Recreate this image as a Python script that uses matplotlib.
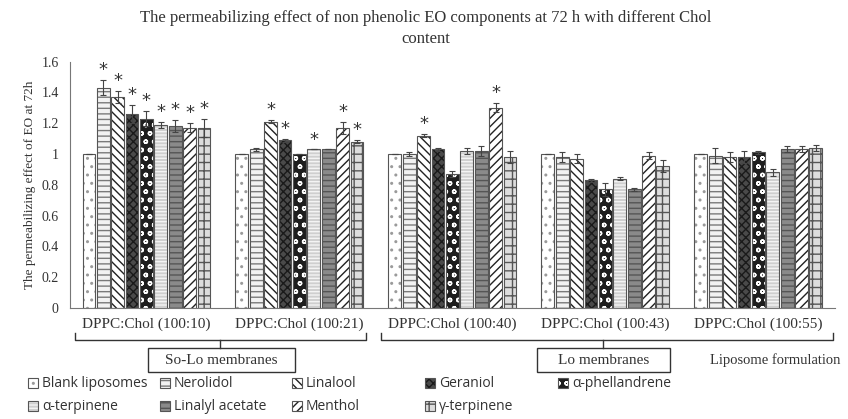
import numpy as np
import matplotlib
matplotlib.use("Agg")
from matplotlib import pyplot as plt
from matplotlib.patches import Rectangle
from matplotlib.ticker import FuncFormatter

# data
groups = ["DPPC:Chol (100:10)", "DPPC:Chol (100:21)", "DPPC:Chol (100:40)",
          "DPPC:Chol (100:43)", "DPPC:Chol (100:55)"]
components = ["Blank liposomes", "Nerolidol", "Linalool", "Geraniol", "α-phellandrene",
              "α-terpinene", "Linalyl acetate", "Menthol", "γ-terpinene"]

blank = [1.00, 1.00, 1.00, 1.00, 1.00]
nerolidol = [1.43, 1.03, 1.00, 0.98, 0.99]
linalool = [1.37, 1.21, 1.12, 0.97, 0.98]
geraniol = [1.26, 1.09, 1.03, 0.83, 0.98]
phellandrene = [1.23, 1.00, 0.87, 0.77, 1.01]
terpinene_a = [1.19, 1.03, 1.02, 0.84, 0.88]
linalyl_acetate = [1.18, 1.03, 1.02, 0.77, 1.03]
menthol = [1.17, 1.17, 1.30, 0.99, 1.03]
terpinene_g = [1.17, 1.08, 0.98, 0.92, 1.04]

blank_err = [0.0, 0.0, 0.0, 0.0, 0.0]
nerolidol_err = [0.05, 0.01, 0.01, 0.03, 0.05]
linalool_err = [0.04, 0.01, 0.01, 0.03, 0.03]
geraniol_err = [0.06, 0.01, 0.01, 0.01, 0.04]
phellandrene_err = [0.05, 0.0, 0.02, 0.04, 0.01]
terpinene_a_err = [0.02, 0.0, 0.02, 0.01, 0.02]
linalyl_acetate_err = [0.04, 0.0, 0.03, 0.01, 0.02]
menthol_err = [0.03, 0.04, 0.03, 0.02, 0.02]
terpinene_g_err = [0.06, 0.01, 0.04, 0.04, 0.02]

# significance stars (group index, component index)
stars = [(0, 1), (0, 2), (0, 3), (0, 4), (0, 5), (0, 6), (0, 7), (0, 8),
         (1, 2), (1, 3), (1, 5), (1, 7), (1, 8),
         (2, 2), (2, 7)]

values = [blank, nerolidol, linalool, geraniol, phellandrene,
          terpinene_a, linalyl_acetate, menthol, terpinene_g]
errors = [blank_err, nerolidol_err, linalool_err, geraniol_err, phellandrene_err,
          terpinene_a_err, linalyl_acetate_err, menthol_err, terpinene_g_err]

# (facecolor, hatch, hatch colour)
styles = [("white", "..", "#9a9a9a"),
          ("#f2f2f2", "---", "#7a7a7a"),
          ("white", "\\\\\\\\", "#222222"),
          ("#4a4a4a", "xxxx", "#1a1a1a"),
          ("#1e1e1e", "oo", "white"),
          ("#cfcfcf", "-----", "#f4f4f4"),
          ("#8a8a8a", "---", "#555555"),
          ("white", "////", "#222222"),
          ("#dddddd", "++", "#555555")]

serif = "Liberation Serif"
sans = "Open Sans"
txt = "#333333"

fig = plt.figure(figsize=(8.48, 4.19), dpi=100)
ax = fig.add_axes([0.0825, 0.265, 0.902, 0.588])

x = np.arange(len(groups))
step = 0.094
width = 0.084
for j in range(len(components)):
    pos = x + (j - 4) * step
    fc, h, hc = styles[j]
    ax.bar(pos, values[j], width, color=fc, hatch=h, edgecolor=hc, linewidth=0, zorder=2)
    ax.bar(pos, values[j], width, fill=False, edgecolor="#555555", linewidth=0.8, zorder=3)
    ax.errorbar(pos, values[j], yerr=errors[j], fmt="none", ecolor="#444444",
                elinewidth=0.8, capsize=2.5, capthick=0.8, zorder=4)

for g, c in stars:
    px = g + (c - 4) * step
    ax.text(px, values[c][g] + errors[c][g] + 0.005, "*", ha="center", va="bottom",
            fontsize=13, color=txt, family="DejaVu Sans", zorder=5)

ax.set_xlim(-0.5, 4.5)
ax.set_ylim(0, 1.6)
ax.set_yticks(np.arange(0, 1.61, 0.2))
ax.yaxis.set_major_formatter(FuncFormatter(lambda v, p: "%g" % round(v, 1)))
ax.set_xticks(x)
ax.set_xticklabels(groups, family=serif, fontsize=11, color=txt)
ax.tick_params(axis="both", length=0)
ax.tick_params(axis="x", pad=7)
ax.tick_params(axis="y", pad=8)
for lab in ax.get_yticklabels():
    lab.set_family(serif)
    lab.set_fontsize(10)
    lab.set_color(txt)
for s in ["top", "right"]:
    ax.spines[s].set_visible(False)
ax.spines["left"].set_color("#777777")
ax.spines["bottom"].set_color("#777777")
ax.set_ylabel("The permeabilizing effect of EO at 72h", family=serif, fontsize=9.5,
              color=txt, labelpad=4)

fig.text(0.502, 0.958, "The permeabilizing effect of non phenolic EO components at 72 h with different Chol",
         ha="center", va="center", family=serif, fontsize=12, color=txt)
fig.text(0.502, 0.908, "content", ha="center", va="center", family=serif, fontsize=12, color=txt)

W, H = 848, 419


# brackets under the group labels
def bracket(x0, x1, xm, y=340, yend=333, ytick=348):
    fig.add_artist(plt.Line2D([x0 / W, x0 / W, x1 / W, x1 / W],
                              [1 - yend / H, 1 - y / H, 1 - y / H, 1 - yend / H],
                              color="#333333", lw=1.0))
    fig.add_artist(plt.Line2D([xm / W, xm / W], [1 - y / H, 1 - ytick / H],
                              color="#333333", lw=1.0))


bracket(75, 366, 220)
bracket(381, 833, 603)


def box(x0, x1, y0, y1, label):
    fig.add_artist(Rectangle((x0 / W, 1 - y1 / H), (x1 - x0) / W, (y1 - y0) / H,
                             fill=False, edgecolor="#333333", lw=1.0,
                             transform=fig.transFigure))
    fig.text((x0 + x1) / 2 / W, 1 - (y0 + y1) / 2 / H, label, ha="center", va="center",
             family=serif, fontsize=11, color=txt)


box(148, 295, 348, 372, "So-Lo membranes")
box(537, 670, 348, 372, "Lo membranes")
fig.text(775 / W, 1 - 360 / H, "Liposome formulation", ha="center", va="center",
         family=serif, fontsize=10.5, color=txt)

# legend drawn by hand to follow the two-row layout
leg_x = [28, 160, 292, 425, 558]
leg_y = [383, 406]
for j, name in enumerate(components):
    lx = leg_x[j % 5]
    ly = leg_y[j // 5]
    fc, h, hc = styles[j]
    fig.add_artist(Rectangle((lx / W, 1 - (ly + 5) / H), 10 / W, 10 / H,
                             facecolor=fc, hatch=h, edgecolor=hc, lw=0,
                             transform=fig.transFigure))
    fig.add_artist(Rectangle((lx / W, 1 - (ly + 5) / H), 10 / W, 10 / H,
                             fill=False, edgecolor="#555555", lw=0.8,
                             transform=fig.transFigure))
    fig.text((lx + 14) / W, 1 - ly / H, name, ha="left", va="center",
             family=sans, fontsize=10, color=txt)

fig.savefig("out.png", dpi=100)
